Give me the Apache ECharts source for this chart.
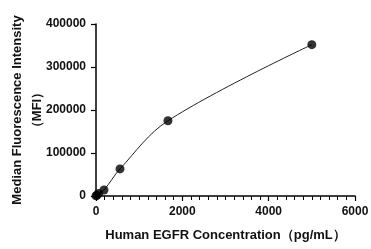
<!DOCTYPE html>
<html>
<head>
<meta charset="utf-8">
<script src="https://cdn.jsdelivr.net/npm/echarts@6/dist/echarts.min.js"></script>
<style>
  html, body { margin: 0; padding: 0; background: #fff; }
  #chart { width: 371px; height: 249px; }
</style>
</head>
<body>
<div id="chart"></div>
<script>
// concentration (pg/mL) and MFI
const conc = [0, 20.6, 61.7, 185, 556, 1667, 5000];
const mfi = [300, 1800, 6000, 14000, 63000, 175000, 352000];
const xTicks = [0, 2000, 4000, 6000];
const yTicks = [0, 100000, 200000, 300000, 400000];

const points = conc.map((c, i) => [c, mfi[i]]);
const font = "Liberation Sans, Arial, sans-serif";

const chart = echarts.init(document.getElementById("chart"));
chart.setOption({
  animation: false,
  grid: { left: 96, right: 16, top: 24, bottom: 53, outerBoundsMode: "none", containLabel: false },
  xAxis: {
    type: "value",
    min: xTicks[0],
    max: xTicks[xTicks.length - 1],
    interval: 2000,
    name: "Human EGFR Concentration（pg/mL）",
    nameLocation: "middle",
    nameGap: 33,
    nameMoveOverlap: false,
    nameTextStyle: { color: "#111", fontFamily: font, fontWeight: "bold", fontSize: 13 },
    axisLine: { lineStyle: { color: "#000", width: 1.5 } },
    axisTick: { length: 5, lineStyle: { color: "#000", width: 1.2 } },
    minorTick: { show: true, splitNumber: 10, length: 4, lineStyle: { color: "#000", width: 1 } },
    axisLabel: { color: "#111", fontFamily: font, fontWeight: "bold", fontSize: 12, margin: 10, formatter: (v) => String(v) },
    splitLine: { show: false }
  },
  yAxis: {
    type: "value",
    min: yTicks[0],
    max: yTicks[yTicks.length - 1],
    interval: 100000,
    name: "Median Fluorescence Intensity\n（MFI）",
    nameLocation: "middle",
    nameRotate: 90,
    nameGap: 49,
    nameMoveOverlap: false,
    nameTextStyle: { color: "#111", fontFamily: font, fontWeight: "bold", fontSize: 13, lineHeight: 20 },
    axisLine: { show: true, lineStyle: { color: "#000", width: 1.5 } },
    axisTick: { show: true, length: 5, lineStyle: { color: "#000", width: 1.2 } },
    axisLabel: { color: "#111", fontFamily: font, fontWeight: "bold", fontSize: 12, margin: 10, formatter: (v) => String(v) },
    splitLine: { show: false }
  },
  series: [
    {
      type: "line",
      data: points,
      smooth: 0.35,
      showSymbol: false,
      lineStyle: { color: "#222", width: 1 },
      z: 2
    },
    {
      type: "scatter",
      data: points,
      symbol: "circle",
      symbolSize: 9,
      itemStyle: { color: "#000" },
      z: 3
    }
  ]
});
</script>
</body>
</html>
